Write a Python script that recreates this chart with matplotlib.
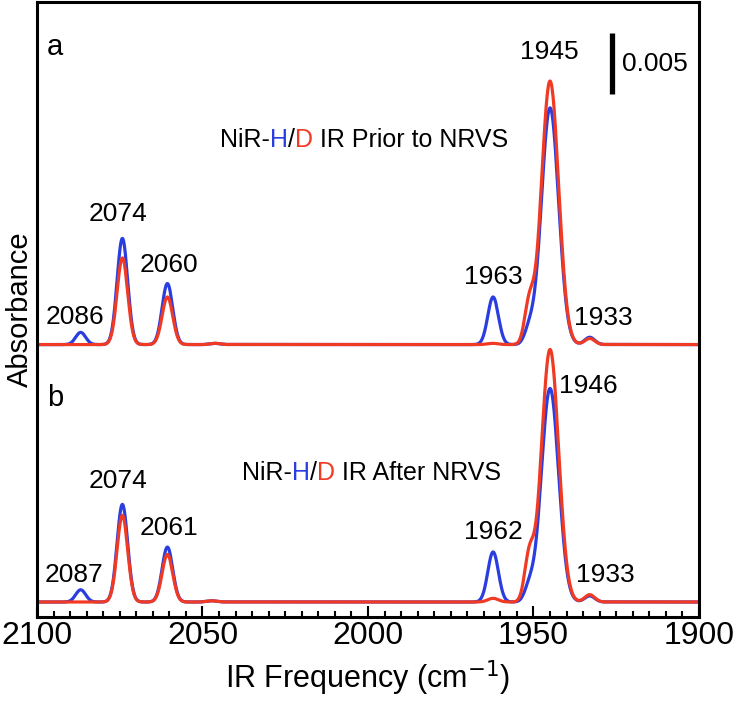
import numpy as np
import matplotlib
matplotlib.use('Agg')
import matplotlib.pyplot as plt

plt.rcParams['font.family'] = ['Liberation Sans', 'DejaVu Sans']

# peak centres (cm-1), heights (absorbance) and widths (sigma, cm-1)
centres_a = [2086.8, 2074.2, 2060.6, 2046, 1962.2, 1951.3, 1945, 1933]
blue_a = [0.0010, 0.0087, 0.0050, 0.0001, 0.0039, 0.0011, 0.0194, 0.0006]
red_a = [0.0000, 0.0071, 0.0039, 0.0001, 0.0001, 0.0031, 0.0216, 0.0005]

centres_b = [2086.8, 2074.2, 2060.6, 2047, 1962.2, 1951.3, 1945, 1933]
blue_b = [0.0010, 0.0080, 0.0045, 0.0001, 0.0041, 0.0011, 0.0175, 0.0005]
red_b = [0.0000, 0.0071, 0.0039, 0.0001, 0.0003, 0.0035, 0.0207, 0.0006]

widths = [1.5, 1.6, 1.6, 1.5, 1.6, 1.4, 2.6, 1.5]

offset_a = 0.0211

labels_a = ['2086', '2074', '2060', '1963', '1945', '1933']
label_pos_a = [(2088.5, 0.0234), (2075.5, 0.0318), (2060.1, 0.0276),
               (1962.2, 0.0266), (1945.3, 0.0451), (1929.0, 0.0233)]
labels_b = ['2087', '2074', '2061', '1962', '1946', '1933']
label_pos_b = [(2088.8, 0.0022), (2075.5, 0.0099), (2060.1, 0.0061),
               (1962.2, 0.0057), (1933.5, 0.0177), (1928.4, 0.0022)]

BLUE = '#2a3de0'
RED = '#f03a24'


def spectrum(x, centres, heights, sigmas):
    y = np.zeros_like(x)
    for c, h, s in zip(centres, heights, sigmas):
        y += h * np.exp(-0.5 * ((x - c) / s) ** 2)
    return y


fig = plt.figure(figsize=(7.34, 7.07), dpi=100)
ax = fig.add_axes([0.0504, 0.1273, 0.9019, 0.8699])

x = np.linspace(1900, 2100, 2001)

ax.plot(x, spectrum(x, centres_a, blue_a, widths) + offset_a, color=BLUE, lw=2.3)
ax.plot(x, spectrum(x, centres_a, red_a, widths) + offset_a, color=RED, lw=2.3)
ax.plot(x, spectrum(x, centres_b, blue_b, widths), color=BLUE, lw=2.3)
ax.plot(x, spectrum(x, centres_b, red_b, widths), color=RED, lw=2.3)

ax.set_xlim(2100, 1900)
ax.set_ylim(-0.00123, 0.04918)

# peak labels
for lab, (px, py) in zip(labels_a, label_pos_a):
    ax.text(px, py, lab, ha='center', va='center', fontsize=19)
for lab, (px, py) in zip(labels_b, label_pos_b):
    ax.text(px, py, lab, ha='center', va='center', fontsize=19)

ax.text(2094.6, 0.0455, 'a', ha='center', va='center', fontsize=21)
ax.text(2094.6, 0.0167, 'b', ha='center', va='center', fontsize=21)

# scale bar
ax.plot([1926.3, 1926.3], [0.04164, 0.04664], color='black', lw=3.8, solid_capstyle='butt')
ax.text(1923.3, 0.0441, '0.005', ha='left', va='center', fontsize=19)


def coloured_title(x_right, y_bottom, parts):
    # build from the right end so the line ends where it does in the figure
    s, c = parts[-1]
    t = ax.text(x_right, y_bottom, s, color=c, ha='right', va='bottom', fontsize=18)
    for s, c in reversed(parts[:-1]):
        t = ax.annotate(s, xy=(0, 0), xycoords=t, color=c, ha='right', va='bottom', fontsize=18)


coloured_title(1957.7, 0.0369, [('NiR-', 'black'), ('H', BLUE), ('/', 'black'),
                                ('D', RED), (' IR Prior to NRVS', 'black')])
coloured_title(1959.8, 0.0096, [('NiR-', 'black'), ('H', BLUE), ('/', 'black'),
                                ('D', RED), (' IR After NRVS', 'black')])

ax.set_xticks(np.arange(1900, 2101, 50))
ax.set_xticks(np.arange(1900, 2101, 5), minor=True)
ax.set_yticks([])
ax.tick_params(axis='x', which='major', direction='in', length=8, width=1.5,
               labelsize=23, pad=3)
ax.tick_params(axis='x', which='minor', direction='in', length=4, width=1.5)
for sp in ax.spines.values():
    sp.set_linewidth(2.2)

ax.set_xlabel('IR Frequency (cm$^{-1}$)', fontsize=22, labelpad=5)
ax.set_ylabel('Absorbance', fontsize=21, labelpad=2)

fig.savefig('out.png', dpi=100)
